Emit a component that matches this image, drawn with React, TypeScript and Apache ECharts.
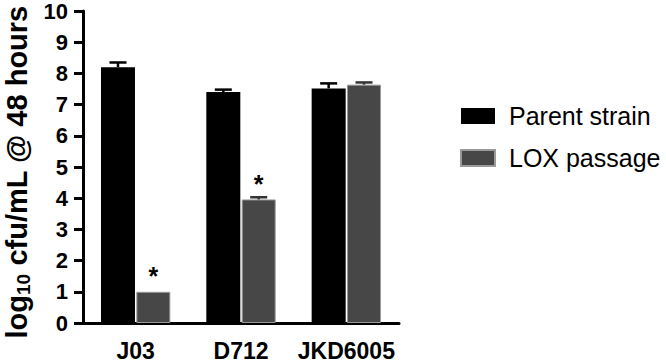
import React, { useEffect, useRef } from "react";
import * as echarts from "echarts";

const categories = ["J03", "D712", "JKD6005"];
const parentValues = [8.2, 7.4, 7.52];
const parentErrors = [0.15, 0.08, 0.16];
const loxValues = [1.0, 3.96, 7.64];
const loxErrors = [0, 0.07, 0.07];
const loxSignificant = [true, true, false];
const seriesNames = ["Parent strain", "LOX passage"];
const yTicks = { min: 0, max: 10, interval: 1 };

const FONT = "'Liberation Sans', Arial, Helvetica, sans-serif";
const BAR_W = 34;
const BAR_GAP = 0.04;
const PARENT_COLOR = "#000000";
const LOX_COLOR = "#474747";

function errorSeries(values: number[], errors: number[], side: number, color: string) {
  return {
    type: "custom",
    silent: true,
    z: 5,
    data: values.map((v, i) => [i, v, errors[i]]),
    encode: { x: 0, y: 1 },
    renderItem: (params: any, api: any) => {
      const idx = api.value(0);
      const val = api.value(1);
      const err = api.value(2);
      if (!err) return { type: "group", children: [] };
      const offset = side * (BAR_W * (1 + BAR_GAP)) / 2;
      const base = api.coord([idx, val]);
      const top = api.coord([idx, val + err]);
      const cx = base[0] + offset;
      const capHalf = 8.5;
      const style = { stroke: color, lineWidth: 2.5 };
      return {
        type: "group",
        children: [
          { type: "line", shape: { x1: cx, y1: base[1], x2: cx, y2: top[1] }, style },
          { type: "line", shape: { x1: cx - capHalf, y1: top[1], x2: cx + capHalf, y2: top[1] }, style },
        ],
      };
    },
  };
}

export default function App() {
  const ref = useRef<HTMLDivElement>(null);
  useEffect(() => {
    document.body.style.margin = "0";
    const chart = echarts.init(ref.current!, undefined, { renderer: "svg" });
    const option: any = {
      animation: false,
      backgroundColor: "#ffffff",
      grid: { left: 83, right: 267, top: 11, bottom: 40, containLabel: false },
      legend: {
        data: seriesNames,
        orient: "vertical",
        left: 455,
        top: 98,
        itemWidth: 34,
        itemHeight: 16,
        itemGap: 16,
        icon: "rect",
        textStyle: {
          fontFamily: FONT,
          fontSize: 25,
          color: "#000",
          lineHeight: 26,
          padding: [0, 0, 0, 9],
        },
      },
      xAxis: {
        type: "category",
        data: categories,
        axisLine: { lineStyle: { color: "#000", width: 3 } },
        axisTick: { alignWithLabel: true, length: 12, lineStyle: { color: "#000", width: 3 } },
        axisLabel: {
          interval: 0,
          hideOverlap: false,
          fontFamily: FONT,
          fontWeight: "bold",
          fontSize: 23,
          color: "#000",
          margin: 16,
        },
      },
      yAxis: {
        type: "value",
        min: yTicks.min,
        max: yTicks.max,
        interval: yTicks.interval,
        splitLine: { show: false },
        axisLine: { show: true, lineStyle: { color: "#000", width: 3 } },
        axisTick: { show: true, length: 9, lineStyle: { color: "#000", width: 3 } },
        axisLabel: {
          fontFamily: FONT,
          fontWeight: "bold",
          fontSize: 22,
          color: "#000",
          margin: 15,
        },
        name: "{a|log}{b|10}{a| cfu/mL @ 48 hours}",
        nameLocation: "middle",
        nameRotate: 90,
        nameGap: 50,
        nameTextStyle: {
          fontFamily: FONT,
          color: "#000",
          padding: [0, 10, 0, 0],
          rich: {
            a: { fontFamily: FONT, fontWeight: "bold", fontSize: 29, lineHeight: 32, color: "#000" },
            b: { fontFamily: FONT, fontWeight: "bold", fontSize: 19, lineHeight: 15, verticalAlign: "bottom", color: "#000" },
          },
        },
      },
      series: [
        {
          name: seriesNames[0],
          type: "bar",
          barWidth: BAR_W,
          barGap: `${BAR_GAP * 100}%`,
          itemStyle: { color: PARENT_COLOR },
          data: parentValues,
        },
        {
          name: seriesNames[1],
          type: "bar",
          barWidth: BAR_W,
          itemStyle: { color: LOX_COLOR, borderColor: "#9a9a9a", borderWidth: 1 },
          data: loxValues.map((v, i) => ({
            value: v,
            label: loxSignificant[i]
              ? {
                  show: true,
                  position: "top",
                  distance: 3,
                  formatter: "*",
                  fontFamily: FONT,
                  fontWeight: "bold",
                  fontSize: 25,
                  lineHeight: 25,
                  color: "#000",
                }
              : { show: false },
          })),
        },
        errorSeries(parentValues, parentErrors, -1, "#000"),
        errorSeries(loxValues, loxErrors, 1, "#333"),
      ],
    };
    chart.setOption(option);
    return () => chart.dispose();
  }, []);
  return (
    <div
      ref={ref}
      style={{ position: "absolute", left: 0, top: 0, width: 666, height: 363 }}
    />
  );
}
